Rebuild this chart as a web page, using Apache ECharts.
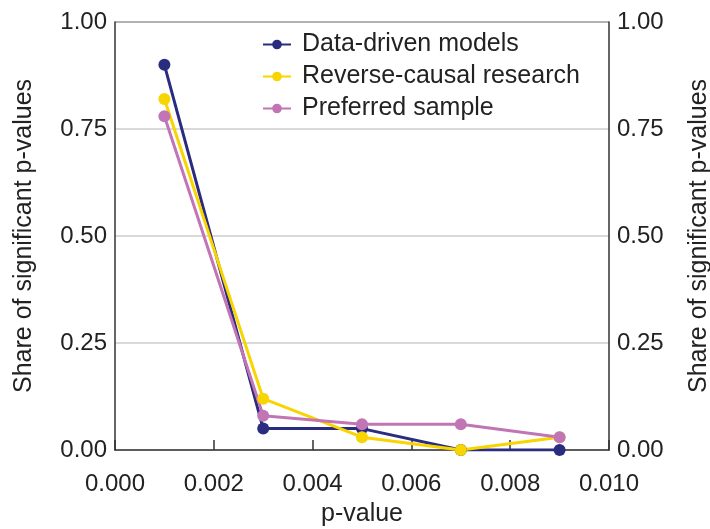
<!DOCTYPE html>
<html>
<head>
<meta charset="utf-8">
<script src="https://cdn.jsdelivr.net/npm/echarts@6/dist/echarts.min.js"></script>
<style>
  html, body { margin: 0; padding: 0; background: #fff; }
  #chart { width: 710px; height: 529px; }
</style>
</head>
<body>
<div id="chart"></div>
<script>
// p-value bins (x positions)
const pValues = [0.001, 0.003, 0.005, 0.007, 0.009];

// share of significant p-values per series
const dataDriven = [0.90, 0.05, 0.05, 0.00, 0.00];
const reverseCausal = [0.82, 0.12, 0.03, 0.00, 0.03];
const preferredSample = [0.78, 0.08, 0.06, 0.06, 0.03];

const seriesNames = ['Data-driven models', 'Reverse-causal research', 'Preferred sample'];
const seriesColors = ['#2a2c80', '#f8d400', '#c275b5'];

const font = 'Liberation Sans, Arial, sans-serif';
const tickSize = 24;
const nameSize = 25;

const chart = echarts.init(document.getElementById('chart'));

const makeSeries = (name, values, color) => ({
  name: name,
  type: 'line',
  data: pValues.map((p, i) => [p, values[i]]),
  symbol: 'circle',
  symbolSize: 12,
  lineStyle: { color: color, width: 3 },
  itemStyle: { color: color },
  animation: false
});

const yAxisBase = {
  type: 'value',
  min: 0,
  max: 1,
  interval: 0.25,
  name: 'Share of significant p-values',
  nameLocation: 'middle',
  nameTextStyle: { fontFamily: font, fontSize: nameSize, color: '#222' },
  axisLine: { show: true, lineStyle: { color: '#333', width: 1.5 } },
  axisTick: { show: false },
  axisLabel: {
    fontFamily: font, fontSize: tickSize, color: '#222', margin: 8,
    formatter: (v) => v.toFixed(2)
  }
};

chart.setOption({
  backgroundColor: '#fff',
  grid: { left: 115, right: 101, top: 22, bottom: 79, outerBoundsMode: 'none' },
  legend: {
    data: seriesNames,
    orient: 'vertical',
    left: 257,
    top: 27,
    itemGap: 7,
    itemWidth: 28,
    itemHeight: 12,
    textStyle: { fontFamily: font, fontSize: nameSize, color: '#222', padding: [0, 0, 0, 6] }
  },
  xAxis: {
    type: 'value',
    min: 0,
    max: 0.01,
    interval: 0.002,
    name: 'p-value',
    nameLocation: 'middle',
    nameGap: 52,
    nameTextStyle: { fontFamily: font, fontSize: nameSize, color: '#222' },
    axisLine: { lineStyle: { color: '#333', width: 1.5 } },
    axisTick: { inside: true, length: 10, lineStyle: { color: '#333', width: 1.5 } },
    axisLabel: {
      fontFamily: font, fontSize: tickSize, color: '#222', margin: 22,
      formatter: (v) => v.toFixed(3)
    },
    splitLine: { show: false }
  },
  yAxis: [
    Object.assign({}, yAxisBase, {
      position: 'left',
      nameGap: 78,
      splitLine: { show: true, lineStyle: { color: '#cccccc', width: 1.5 } }
    }),
    Object.assign({}, yAxisBase, {
      position: 'right',
      nameGap: 78,
      splitLine: { show: false }
    })
  ],
  series: [
    makeSeries(seriesNames[0], dataDriven, seriesColors[0]),
    makeSeries(seriesNames[1], reverseCausal, seriesColors[1]),
    makeSeries(seriesNames[2], preferredSample, seriesColors[2])
  ],
  graphic: [{
    // top border of plot frame
    type: 'line',
    shape: { x1: 115, y1: 22, x2: 609, y2: 22 },
    style: { stroke: '#333', lineWidth: 1.5 },
    silent: true
  }]
});
</script>
</body>
</html>
